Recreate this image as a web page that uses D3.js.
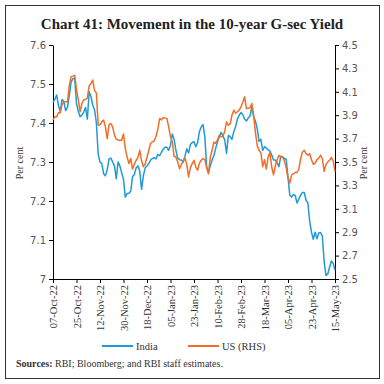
<!DOCTYPE html>
<html>
<head>
<meta charset="utf-8">
<script src="https://cdn.jsdelivr.net/npm/d3@7"></script>
<style>
  body { margin: 0; background: #fff; }
  svg { display: block; }
</style>
</head>
<body>
<div id="chart"></div>
<script>
// Tick labels on the category (trading day) axis, one every 13 points
const xLabels = ["07-Oct-22", "25-Oct-22", "12-Nov-22", "30-Nov-22", "18-Dec-22", "05-Jan-23",
  "23-Jan-23", "10-Feb-23", "28-Feb-23", "18-Mar-23", "05-Apr-23", "23-Apr-23", "15-May-23"];
const tickEvery = 13;

// India 10-year G-sec yield (left axis, per cent)
const india = [
  7.454, 7.46, 7.472, 7.445, 7.43, 7.46, 7.455, 7.432, 7.44, 7.47,
  7.505, 7.514, 7.514, 7.45, 7.43, 7.416, 7.42, 7.428, 7.44, 7.41,
  7.48, 7.468, 7.445, 7.434, 7.40, 7.32, 7.30, 7.296, 7.27, 7.265,
  7.28, 7.308, 7.31, 7.30, 7.29, 7.257, 7.30, 7.29, 7.272, 7.255,
  7.21, 7.219, 7.22, 7.225, 7.262, 7.268, 7.285, 7.29, 7.276, 7.23,
  7.265, 7.285, 7.29, 7.296, 7.305, 7.309, 7.311, 7.308, 7.32, 7.316,
  7.325, 7.333, 7.338, 7.338, 7.33, 7.343, 7.372, 7.358, 7.33, 7.31,
  7.306, 7.305, 7.30, 7.315, 7.334, 7.323, 7.345, 7.35, 7.352, 7.339,
  7.35, 7.378, 7.39, 7.396, 7.365, 7.287, 7.273, 7.29, 7.305, 7.316,
  7.335, 7.352, 7.365, 7.376, 7.367, 7.357, 7.322, 7.368, 7.365, 7.358,
  7.378, 7.39, 7.41, 7.42, 7.427, 7.422, 7.41, 7.405, 7.413, 7.418,
  7.441, 7.415, 7.405, 7.385, 7.353, 7.358, 7.33, 7.339, 7.336, 7.331,
  7.328, 7.318, 7.305, 7.305, 7.298, 7.288, 7.315, 7.313, 7.309, 7.307,
  7.262, 7.215, 7.21, 7.217, 7.214, 7.195, 7.205, 7.215, 7.222, 7.222,
  7.202, 7.195, 7.148, 7.12, 7.102, 7.12, 7.103, 7.118, 7.119, 7.11,
  7.045, 7.009, 7.013, 7.03, 7.046, 7.04, 7.023
];

// US 10-year Treasury yield (right axis, per cent)
const us = [
  3.86, 3.886, 3.886, 3.92, 3.92, 3.99, 4.014, 4.014, 4.014, 4.15,
  4.229, 4.234, 4.24, 4.12, 4.03, 3.93, 4.0, 4.03, 4.035, 4.045,
  4.15, 4.171, 4.2, 4.11, 4.09, 3.815, 3.818, 3.843, 3.858, 3.80,
  3.70, 3.82, 3.829, 3.80, 3.73, 3.695, 3.688, 3.686, 3.686, 3.74,
  3.614, 3.543, 3.486, 3.53, 3.44, 3.48, 3.515, 3.54, 3.60, 3.51,
  3.46, 3.483, 3.54, 3.60, 3.66, 3.672, 3.68, 3.72, 3.78, 3.872,
  3.86, 3.88, 3.875, 3.872, 3.80, 3.715, 3.67, 3.548, 3.543, 3.50,
  3.443, 3.48, 3.50, 3.535, 3.48, 3.372, 3.45, 3.486, 3.515, 3.457,
  3.43, 3.49, 3.515, 3.529, 3.52, 3.45, 3.40, 3.54, 3.60, 3.67,
  3.66, 3.69, 3.729, 3.715, 3.72, 3.76, 3.843, 3.815, 3.825, 3.90,
  3.943, 3.918, 3.929, 3.943, 3.972, 4.01, 4.057, 3.958, 3.958, 3.965,
  4.0, 3.90, 3.75, 3.64, 3.60, 3.58, 3.46, 3.52, 3.44, 3.54,
  3.58, 3.457, 3.39, 3.47, 3.52, 3.558, 3.543, 3.543, 3.51, 3.45,
  3.36, 3.32, 3.39, 3.40, 3.41, 3.41, 3.44, 3.53, 3.586, 3.60,
  3.572, 3.558, 3.57, 3.52, 3.48, 3.49, 3.52, 3.53, 3.558, 3.53,
  3.42, 3.48, 3.50, 3.515, 3.54, 3.51, 3.42
];

const leftTicks = [7, 7.1, 7.2, 7.3, 7.4, 7.5, 7.6];
const rightTicks = [2.5, 2.7, 2.9, 3.1, 3.3, 3.5, 3.7, 3.9, 4.1, 4.3, 4.5];

const seriesNames = ["India", "US (RHS)"];
const colors = ["#1e9ad6", "#f26d25"];

const width = 384, height = 384;
const margin = { top: 45, right: 49, bottom: 105, left: 53 };

const svg = d3.select("#chart").append("svg")
  .attr("width", width)
  .attr("height", height);

// outer frame
svg.append("rect")
  .attr("x", 5.5).attr("y", 5.5)
  .attr("width", 374).attr("height", 373)
  .attr("fill", "none")
  .attr("stroke", "#333")
  .attr("stroke-width", 1);

svg.append("text")
  .attr("x", 192).attr("y", 29)
  .attr("text-anchor", "middle")
  .style("font-family", "'Liberation Serif', 'DejaVu Serif', serif")
  .style("font-weight", "bold")
  .style("font-size", "15px")
  .attr("fill", "#222")
  .text("Chart 41: Movement in the 10-year G-sec Yield");

const x = d3.scaleLinear()
  .domain([0, india.length - 1])
  .range([margin.left, width - margin.right]);

const yL = d3.scaleLinear().domain([7, 7.6]).range([height - margin.bottom, margin.top]);
const yR = d3.scaleLinear().domain([2.5, 4.5]).range([height - margin.bottom, margin.top]);

const sansFont = "'DejaVu Sans', 'Noto Sans', sans-serif";
const serifFont = "'Liberation Serif', 'DejaVu Serif', serif";

// left axis
const gL = svg.append("g")
  .attr("transform", `translate(${margin.left},0)`)
  .call(d3.axisLeft(yL).tickValues(leftTicks).tickSize(4).tickSizeOuter(0)
    .tickFormat(d => d === 7 ? "7" : d3.format(".1f")(d)));

// right axis
const gR = svg.append("g")
  .attr("transform", `translate(${width - margin.right},0)`)
  .call(d3.axisRight(yR).tickValues(rightTicks).tickSize(4).tickSizeOuter(0)
    .tickFormat(d3.format(".1f")));

[gL, gR].forEach(g => {
  g.selectAll("text")
    .style("font-family", sansFont)
    .style("font-size", "10px")
    .attr("fill", "#555");
  g.select(".domain").attr("stroke", "#000");
  g.selectAll(".tick line").attr("stroke", "#000");
});

// bottom axis
const tickIdx = xLabels.map((d, i) => i * tickEvery);
const gX = svg.append("g")
  .attr("transform", `translate(0,${height - margin.bottom})`)
  .call(d3.axisBottom(x).tickValues(tickIdx).tickSize(4).tickSizeOuter(0)
    .tickFormat((d, i) => xLabels[i]));

gX.select(".domain").attr("stroke", "#000");
gX.selectAll(".tick line").attr("stroke", "#000");
gX.selectAll("text")
  .style("font-family", serifFont)
  .style("font-size", "10.5px")
  .attr("fill", "#333")
  .attr("text-anchor", "end")
  .attr("transform", "rotate(-90)")
  .attr("x", -6)
  .attr("y", 0)
  .attr("dy", "0.35em");

// axis titles
svg.append("text")
  .attr("transform", `translate(23,163) rotate(-90)`)
  .attr("text-anchor", "middle")
  .style("font-family", serifFont)
  .style("font-size", "10px")
  .attr("fill", "#333")
  .text("Per cent");

svg.append("text")
  .attr("transform", `translate(367,163) rotate(-90)`)
  .attr("text-anchor", "middle")
  .style("font-family", serifFont)
  .style("font-size", "10px")
  .attr("fill", "#333")
  .text("Per cent");

// lines
const lineL = d3.line().x((d, i) => x(i)).y(d => yL(d));
const lineR = d3.line().x((d, i) => x(i)).y(d => yR(d));

svg.append("path")
  .datum(india)
  .attr("d", lineL)
  .attr("fill", "none")
  .attr("stroke", colors[0])
  .attr("stroke-width", 1.5)
  .attr("stroke-linejoin", "round");

svg.append("path")
  .datum(us)
  .attr("d", lineR)
  .attr("fill", "none")
  .attr("stroke", colors[1])
  .attr("stroke-width", 1.5)
  .attr("stroke-linejoin", "round");

// legend
const legendX = [102, 188];
const legend = svg.append("g");
seriesNames.forEach((name, i) => {
  legend.append("line")
    .attr("x1", legendX[i]).attr("x2", legendX[i] + 31)
    .attr("y1", 346).attr("y2", 346)
    .attr("stroke", colors[i])
    .attr("stroke-width", 2);
  legend.append("text")
    .attr("x", legendX[i] + 34).attr("y", 349.5)
    .style("font-family", serifFont)
    .style("font-size", "10.5px")
    .attr("fill", "#333")
    .text(name);
});

// source note
const src = svg.append("text")
  .attr("x", 16).attr("y", 367)
  .style("font-family", serifFont)
  .style("font-size", "10px")
  .attr("fill", "#333");
src.append("tspan").style("font-weight", "bold").text("Sources: ");
src.append("tspan").text("RBI; Bloomberg; and RBI staff estimates.");
</script>
</body>
</html>
